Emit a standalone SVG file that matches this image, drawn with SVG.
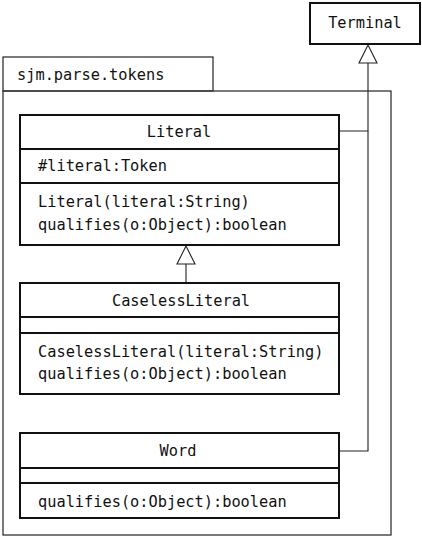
<svg xmlns="http://www.w3.org/2000/svg" width="422" height="538" viewBox="0 0 422 538">
<defs>
<style>
text{font-family:"DejaVu Sans Mono","Liberation Mono",monospace;font-size:15.3px;fill:#111}
.box{fill:#fff;stroke:#111;stroke-width:2}
.div{stroke:#111;stroke-width:2}
.pkg{fill:none;stroke:#333;stroke-width:1.3}
.con{fill:none;stroke:#222;stroke-width:1.1}
.tri{fill:#fff;stroke:#222;stroke-width:1.1}
.c{text-anchor:middle}
</style>
</defs>
<rect width="422" height="538" fill="#fff"/>
<g id="package">
<rect class="pkg" x="3" y="57" width="210" height="34"/>
<rect class="pkg" x="3" y="91" width="388" height="444"/>
<text x="17" y="80">sjm.parse.tokens</text>
</g>
<g id="connectors">
<polyline class="con" points="339,131 368,131 368,63"/>
<polyline class="con" points="339,451 368,451 368,131"/>
<polygon class="tri" points="368,45 359,63 377,63"/>
<line class="con" x1="186" y1="264" x2="186" y2="283"/>
<polygon class="tri" points="186,246 177,264 195,264"/>
</g>
<g id="Terminal">
<rect class="box" x="310" y="3" width="110" height="41"/>
<text class="c" x="365" y="28">Terminal</text>
</g>
<g id="Literal">
<rect class="box" x="20" y="115" width="319" height="130"/>
<line class="div" x1="20" y1="149" x2="339" y2="149"/>
<line class="div" x1="20" y1="183" x2="339" y2="183"/>
<text class="c" x="179" y="137">Literal</text>
<text x="38" y="171">#literal:Token</text>
<text x="38" y="207">Literal(literal:String)</text>
<text x="38" y="230">qualifies(o:Object):boolean</text>
</g>
<g id="CaselessLiteral">
<rect class="box" x="20" y="283" width="319" height="111"/>
<line class="div" x1="20" y1="317" x2="339" y2="317"/>
<line class="div" x1="20" y1="333" x2="339" y2="333"/>
<text class="c" x="181" y="306">CaselessLiteral</text>
<text x="38" y="357">CaselessLiteral(literal:String)</text>
<text x="38" y="379">qualifies(o:Object):boolean</text>
</g>
<g id="Word">
<rect class="box" x="20" y="433" width="319" height="85"/>
<line class="div" x1="20" y1="468" x2="339" y2="468"/>
<line class="div" x1="20" y1="483" x2="339" y2="483"/>
<text class="c" x="178" y="456">Word</text>
<text x="38" y="507">qualifies(o:Object):boolean</text>
</g>
</svg>
